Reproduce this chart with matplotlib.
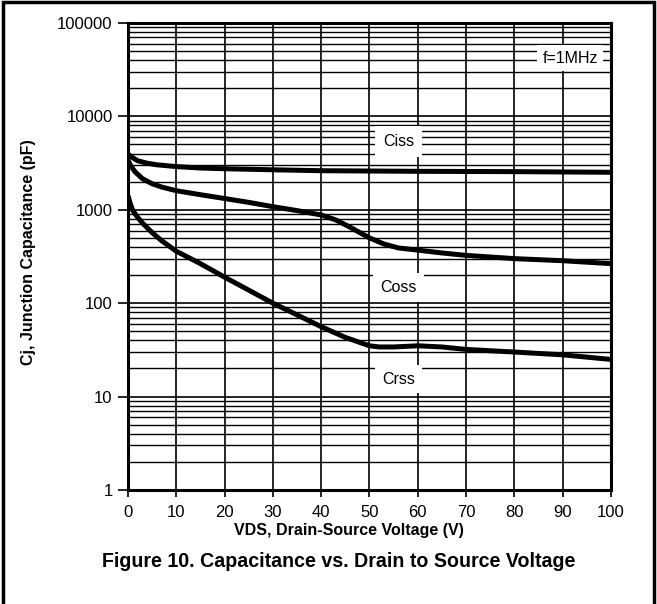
import numpy as np
import matplotlib.pyplot as plt
from matplotlib.ticker import FixedLocator, NullFormatter
from matplotlib.patches import Rectangle

# values (V, pF)
vds_ciss = [0, 1, 2, 4, 6, 10, 15, 20, 30, 40, 50, 60, 70, 80, 90, 100]
ciss = [3950, 3600, 3350, 3150, 3030, 2900, 2800, 2750, 2680, 2620, 2600, 2580, 2570, 2560, 2540, 2520]

vds_coss = [0, 0.5, 1, 1.5, 3, 5, 7, 10, 15, 20, 25, 30, 35, 40, 43, 46, 50, 53, 56, 60, 65, 70, 80, 90, 100]
coss = [3400, 3000, 2750, 2540, 2150, 1900, 1750, 1600, 1450, 1320, 1200, 1080, 980, 880, 780, 650, 500, 430, 390, 370, 345, 325, 300, 285, 265]

vds_crss = [0, 0.5, 1, 2, 3, 5, 7, 10, 15, 20, 25, 30, 35, 40, 45, 48, 50, 52, 55, 60, 65, 70, 80, 90, 100]
crss = [1420, 1150, 980, 830, 720, 570, 465, 360, 265, 190, 138, 100, 75, 56, 43, 38, 35, 34, 34, 35, 34, 32, 30, 28, 25]

x_ticks = [0, 10, 20, 30, 40, 50, 60, 70, 80, 90, 100]
y_ticks = [1, 10, 100, 1000, 10000, 100000]
y_labels = ['1', '10', '100', '1000', '10000', '100000']

fam = ['Liberation Sans', 'DejaVu Sans']
plt.rcParams['font.family'] = fam

fig = plt.figure(figsize=(6.57, 6.04), dpi=100)
ax = fig.add_axes([0.1948, 0.1887, 0.7352, 0.7733])

ax.set_yscale('log')
ax.set_xlim(0, 100)
ax.set_ylim(1, 100000)

ax.plot(vds_ciss, ciss, color='black', lw=3.6, solid_capstyle='butt', zorder=4)
ax.plot(vds_coss, coss, color='black', lw=3.6, solid_capstyle='butt', zorder=4)
ax.plot(vds_crss, crss, color='black', lw=3.6, solid_capstyle='butt', zorder=4)

ax.set_xticks(x_ticks)
ax.set_yticks(y_ticks)
ax.set_yticklabels(y_labels)
ax.yaxis.set_minor_locator(FixedLocator([m * 10**d for d in range(5) for m in range(2, 10)]))
ax.yaxis.set_minor_formatter(NullFormatter())
ax.tick_params(axis='y', which='minor', length=0)
ax.tick_params(axis='both', which='major', direction='out', length=7, width=1.2,
               color='black', labelsize=12, pad=4)
ax.tick_params(axis='x', which='major', length=5, pad=6)

ax.grid(True, which='major', axis='both', color='black', lw=1.2, zorder=1)
ax.grid(True, which='minor', axis='y', color='black', lw=1.0, zorder=1)
ax.set_axisbelow(True)
for s in ax.spines.values():
    s.set_linewidth(2.2)

box = dict(facecolor='white', edgecolor='none', pad=5)
ax.text(56, 5400, 'Ciss', ha='center', va='center', fontsize=11.5,
        bbox=dict(facecolor='white', edgecolor='none', pad=6), zorder=5)
ax.text(56, 148, 'Coss', ha='center', va='center', fontsize=11.5, bbox=box, zorder=5)
ax.text(56, 15.4, 'Crss', ha='center', va='center', fontsize=11.5, bbox=box, zorder=5)
ax.text(91.5, 42000, 'f=1MHz', ha='center', va='center', fontsize=11.5,
        bbox=dict(facecolor='white', edgecolor='none', pad=4), zorder=5)

ax.set_xlabel('VDS, Drain-Source Voltage (V)', fontsize=11.5, fontweight='bold')
ax.xaxis.set_label_coords(0.457, -0.07)
ax.set_ylabel('Cj, Junction Capacitance (pF)', fontsize=11.5, fontweight='bold')
ax.yaxis.set_label_coords(-0.19, 0.51)
fig.text(0.515, 0.071, 'Figure 10. Capacitance vs. Drain to Source Voltage',
         ha='center', va='center', fontsize=14.1, fontweight='bold')

# frame around the whole figure
fig.patches.append(Rectangle((0.004, -0.01), 0.992, 1.006, transform=fig.transFigure,
                             fill=False, edgecolor='black', lw=2.5))

fig.savefig('out.png', dpi=100)
